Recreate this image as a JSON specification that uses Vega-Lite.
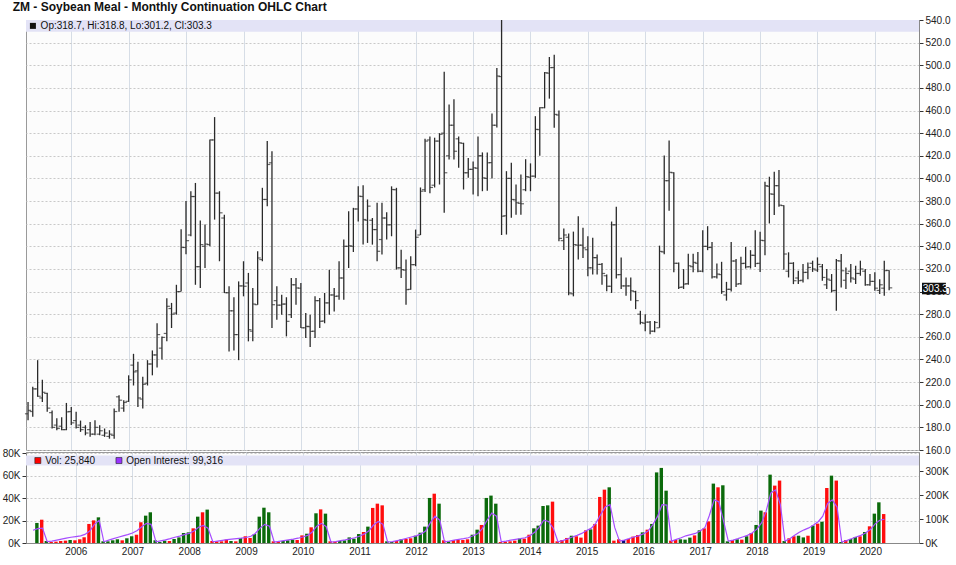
{
  "$schema": "https://vega.github.io/schema/vega-lite/v6.json",
  "background": "white",
  "padding": {"left": 1, "right": 0, "top": 0, "bottom": 0},
  "title": {"text": "ZM - Soybean Meal - Monthly Continuation OHLC Chart", "anchor": "start", "font": "Liberation Sans", "fontSize": 12, "fontWeight": "bold", "color": "#111111", "offset": 1, "dx": 11},
  "config": {
    "font": "Liberation Sans",
    "view": {"stroke": "#9a9a9a", "fill": "#fcfcfc"},
    "axis": {"labelFont": "Liberation Sans", "labelFontSize": 10, "labelColor": "#222222", "titleFontSize": 10, "labelOverlap": false}
  },
  "spacing": 2,
  "bounds": "flush",
  "datasets": {
    "zm": [
      {"d":"2005-04-01","o":192,"h":202.5,"l":186.3,"c":195,"v":null,"oi":53000,"dir":"up"},
      {"d":"2005-05-01","o":194,"h":215.8,"l":189.3,"c":214,"v":17900,"oi":60000,"dir":"up"},
      {"d":"2005-06-01","o":214,"h":239.4,"l":207,"c":207.5,"v":20800,"oi":62000,"dir":"down"},
      {"d":"2005-07-01","o":206,"h":222,"l":202.5,"c":211,"v":1800,"oi":6000,"dir":"up"},
      {"d":"2005-08-01","o":210,"h":210.5,"l":193.7,"c":197,"v":900,"oi":8000,"dir":"down"},
      {"d":"2005-09-01","o":193,"h":195,"l":179,"c":180,"v":1200,"oi":12000,"dir":"down"},
      {"d":"2005-10-01","o":182,"h":188,"l":177.5,"c":179,"v":1800,"oi":16000,"dir":"down"},
      {"d":"2005-11-01","o":181,"h":189,"l":177.5,"c":178,"v":2100,"oi":20000,"dir":"down"},
      {"d":"2005-12-01","o":178,"h":201.6,"l":177.5,"c":193.7,"v":2700,"oi":24000,"dir":"up"},
      {"d":"2006-01-01","o":194,"h":198,"l":182,"c":184,"v":2400,"oi":27000,"dir":"down"},
      {"d":"2006-02-01","o":186,"h":193.7,"l":179,"c":180,"v":3300,"oi":30000,"dir":"down"},
      {"d":"2006-03-01","o":182,"h":186,"l":176,"c":178,"v":5100,"oi":36000,"dir":"down"},
      {"d":"2006-04-01","o":180,"h":181.9,"l":173,"c":175,"v":17000,"oi":50000,"dir":"down"},
      {"d":"2006-05-01","o":178,"h":184.8,"l":171.6,"c":174,"v":20200,"oi":78000,"dir":"down"},
      {"d":"2006-06-01","o":174,"h":186.3,"l":173,"c":180,"v":22900,"oi":95000,"dir":"up"},
      {"d":"2006-07-01","o":174,"h":181.9,"l":173,"c":177,"v":1500,"oi":5000,"dir":"up"},
      {"d":"2006-08-01","o":173,"h":179,"l":171.6,"c":175,"v":1500,"oi":12000,"dir":"up"},
      {"d":"2006-09-01","o":172,"h":177.5,"l":170,"c":174,"v":2400,"oi":18000,"dir":"up"},
      {"d":"2006-10-01","o":173,"h":196.6,"l":170,"c":194,"v":3300,"oi":24000,"dir":"up"},
      {"d":"2006-11-01","o":207,"h":208.4,"l":193.7,"c":204,"v":2400,"oi":30000,"dir":"down"},
      {"d":"2006-12-01","o":197,"h":204,"l":193.7,"c":202,"v":4200,"oi":35000,"dir":"up"},
      {"d":"2007-01-01","o":203,"h":226,"l":202.5,"c":222,"v":6000,"oi":42000,"dir":"up"},
      {"d":"2007-02-01","o":235,"h":245,"l":217,"c":229,"v":7400,"oi":52000,"dir":"down"},
      {"d":"2007-03-01","o":230,"h":238,"l":198,"c":206,"v":18500,"oi":68000,"dir":"down"},
      {"d":"2007-04-01","o":205,"h":224.7,"l":196.6,"c":218,"v":24400,"oi":82000,"dir":"up"},
      {"d":"2007-05-01","o":219,"h":239.4,"l":217,"c":236,"v":27400,"oi":78000,"dir":"up"},
      {"d":"2007-06-01","o":236,"h":248,"l":226,"c":244,"v":2400,"oi":5000,"dir":"up"},
      {"d":"2007-07-01","o":244,"h":272,"l":233,"c":262,"v":900,"oi":9000,"dir":"up"},
      {"d":"2007-08-01","o":250,"h":260.4,"l":240,"c":259.5,"v":2100,"oi":13000,"dir":"up"},
      {"d":"2007-09-01","o":263,"h":294,"l":256,"c":287,"v":1800,"oi":18000,"dir":"down"},
      {"d":"2007-10-01","o":285,"h":290,"l":267.8,"c":280,"v":3600,"oi":24000,"dir":"up"},
      {"d":"2007-11-01","o":281,"h":306,"l":279.6,"c":300,"v":5000,"oi":29000,"dir":"up"},
      {"d":"2007-12-01","o":300,"h":355,"l":300,"c":339,"v":8900,"oi":35000,"dir":"up"},
      {"d":"2008-01-01","o":339,"h":380,"l":333,"c":345,"v":9500,"oi":40000,"dir":"up"},
      {"d":"2008-02-01","o":350,"h":388.7,"l":348.9,"c":384,"v":13100,"oi":50000,"dir":"down"},
      {"d":"2008-03-01","o":384,"h":396,"l":306,"c":322,"v":23500,"oi":66000,"dir":"up"},
      {"d":"2008-04-01","o":322,"h":362.8,"l":303.2,"c":341.5,"v":27400,"oi":73000,"dir":"down"},
      {"d":"2008-05-01","o":340,"h":359.2,"l":320.9,"c":342,"v":29800,"oi":62000,"dir":"up"},
      {"d":"2008-06-01","o":341.5,"h":434.5,"l":340,"c":434,"v":1800,"oi":5000,"dir":"down"},
      {"d":"2008-07-01","o":434,"h":454.2,"l":363.6,"c":387,"v":1500,"oi":8000,"dir":"down"},
      {"d":"2008-08-01","o":387,"h":388.7,"l":326.8,"c":369.6,"v":1500,"oi":11000,"dir":"down"},
      {"d":"2008-09-01","o":365,"h":368,"l":298.8,"c":299,"v":3000,"oi":14000,"dir":"down"},
      {"d":"2008-10-01","o":299,"h":304.7,"l":247,"c":283,"v":1800,"oi":16000,"dir":"up"},
      {"d":"2008-11-01","o":283,"h":295,"l":248,"c":262,"v":1500,"oi":18000,"dir":"down"},
      {"d":"2008-12-01","o":262,"h":309,"l":239.4,"c":305,"v":4500,"oi":20000,"dir":"up"},
      {"d":"2009-01-01","o":305,"h":326.8,"l":295.8,"c":304.7,"v":6000,"oi":23000,"dir":"down"},
      {"d":"2009-02-01","o":307.6,"h":316.5,"l":256,"c":266.3,"v":4500,"oi":28000,"dir":"down"},
      {"d":"2009-03-01","o":265,"h":303.2,"l":256,"c":289,"v":8000,"oi":40000,"dir":"up"},
      {"d":"2009-04-01","o":288.4,"h":335.6,"l":288.4,"c":329.7,"v":23500,"oi":62000,"dir":"up"},
      {"d":"2009-05-01","o":328.3,"h":391.7,"l":326.8,"c":381.4,"v":31500,"oi":78000,"dir":"up"},
      {"d":"2009-06-01","o":381.4,"h":433,"l":375.5,"c":412.3,"v":27400,"oi":70000,"dir":"up"},
      {"d":"2009-07-01","o":413.8,"h":424.1,"l":267.8,"c":288.4,"v":1500,"oi":4000,"dir":"down"},
      {"d":"2009-08-01","o":292,"h":304.7,"l":275.2,"c":288,"v":1200,"oi":7000,"dir":"down"},
      {"d":"2009-09-01","o":288,"h":297.3,"l":279.6,"c":289,"v":1800,"oi":10000,"dir":"up"},
      {"d":"2009-10-01","o":289,"h":295,"l":260.4,"c":273.7,"v":2400,"oi":13000,"dir":"up"},
      {"d":"2009-11-01","o":279.6,"h":312,"l":276.6,"c":306,"v":3000,"oi":16000,"dir":"up"},
      {"d":"2009-12-01","o":306,"h":312,"l":288.4,"c":303.2,"v":2700,"oi":20000,"dir":"down"},
      {"d":"2010-01-01","o":303,"h":307.6,"l":267.8,"c":268,"v":6800,"oi":25000,"dir":"down"},
      {"d":"2010-02-01","o":268,"h":281,"l":259,"c":269.3,"v":8300,"oi":32000,"dir":"up"},
      {"d":"2010-03-01","o":269,"h":279.6,"l":251,"c":264.8,"v":14000,"oi":45000,"dir":"down"},
      {"d":"2010-04-01","o":265,"h":295.8,"l":259,"c":292,"v":26500,"oi":70000,"dir":"up"},
      {"d":"2010-05-01","o":292,"h":294.3,"l":267.8,"c":273.7,"v":30000,"oi":82000,"dir":"down"},
      {"d":"2010-06-01","o":274,"h":298.8,"l":272,"c":290,"v":26200,"oi":68000,"dir":"up"},
      {"d":"2010-07-01","o":290,"h":319.4,"l":279.6,"c":297,"v":1500,"oi":4000,"dir":"down"},
      {"d":"2010-08-01","o":297,"h":303.2,"l":282.5,"c":295.8,"v":1200,"oi":6000,"dir":"down"},
      {"d":"2010-09-01","o":296,"h":326.8,"l":292.7,"c":312,"v":1800,"oi":10000,"dir":"up"},
      {"d":"2010-10-01","o":312,"h":346,"l":292.7,"c":340,"v":2400,"oi":13000,"dir":"up"},
      {"d":"2010-11-01","o":340,"h":371,"l":320.9,"c":340.5,"v":5000,"oi":17000,"dir":"up"},
      {"d":"2010-12-01","o":340,"h":374,"l":335,"c":373,"v":3900,"oi":22000,"dir":"up"},
      {"d":"2011-01-01","o":373,"h":393.1,"l":362,"c":384.3,"v":8000,"oi":28000,"dir":"up"},
      {"d":"2011-02-01","o":384,"h":394,"l":341.5,"c":363.7,"v":9800,"oi":38000,"dir":"down"},
      {"d":"2011-03-01","o":363,"h":381.4,"l":343,"c":375.5,"v":14600,"oi":50000,"dir":"up"},
      {"d":"2011-04-01","o":363,"h":365,"l":341.5,"c":354.8,"v":31300,"oi":75000,"dir":"down"},
      {"d":"2011-05-01","o":354.8,"h":378.5,"l":326.8,"c":335.6,"v":35100,"oi":90000,"dir":"down"},
      {"d":"2011-06-01","o":346,"h":378.5,"l":332.7,"c":365,"v":33600,"oi":78000,"dir":"down"},
      {"d":"2011-07-01","o":365,"h":370,"l":346,"c":359,"v":1500,"oi":4000,"dir":"up"},
      {"d":"2011-08-01","o":359,"h":393,"l":348.9,"c":390.2,"v":900,"oi":6000,"dir":"up"},
      {"d":"2011-09-01","o":390,"h":391.7,"l":319.4,"c":320.9,"v":1800,"oi":10000,"dir":"down"},
      {"d":"2011-10-01","o":321,"h":337,"l":312,"c":319.4,"v":3300,"oi":14000,"dir":"up"},
      {"d":"2011-11-01","o":319,"h":328.3,"l":288.4,"c":301.7,"v":3600,"oi":20000,"dir":"down"},
      {"d":"2011-12-01","o":302,"h":331.2,"l":301.7,"c":323.8,"v":4200,"oi":25000,"dir":"down"},
      {"d":"2012-01-01","o":323.8,"h":354.8,"l":322.4,"c":348,"v":6500,"oi":30000,"dir":"up"},
      {"d":"2012-02-01","o":350,"h":392,"l":350,"c":388.7,"v":9200,"oi":38000,"dir":"up"},
      {"d":"2012-03-01","o":390,"h":435,"l":388,"c":433,"v":14600,"oi":50000,"dir":"up"},
      {"d":"2012-04-01","o":434,"h":437,"l":387,"c":392,"v":40200,"oi":85000,"dir":"up"},
      {"d":"2012-05-01","o":394,"h":436,"l":392,"c":433,"v":44000,"oi":112000,"dir":"down"},
      {"d":"2012-06-01","o":433,"h":440,"l":394.6,"c":439,"v":35100,"oi":95000,"dir":"up"},
      {"d":"2012-07-01","o":440,"h":494.3,"l":369.6,"c":405,"v":2400,"oi":5000,"dir":"down"},
      {"d":"2012-08-01","o":420,"h":465.4,"l":416.8,"c":447,"v":1500,"oi":8000,"dir":"up"},
      {"d":"2012-09-01","o":447,"h":470,"l":416.8,"c":424,"v":2700,"oi":12000,"dir":"down"},
      {"d":"2012-10-01","o":435,"h":437,"l":409.4,"c":431.5,"v":2700,"oi":15000,"dir":"down"},
      {"d":"2012-11-01","o":431,"h":431.5,"l":390.2,"c":405,"v":2700,"oi":18000,"dir":"down"},
      {"d":"2012-12-01","o":405,"h":418,"l":400.5,"c":408,"v":3300,"oi":22000,"dir":"down"},
      {"d":"2013-01-01","o":408,"h":415,"l":385.8,"c":409.4,"v":7400,"oi":30000,"dir":"up"},
      {"d":"2013-02-01","o":409,"h":437,"l":384.3,"c":420,"v":11900,"oi":40000,"dir":"up"},
      {"d":"2013-03-01","o":420,"h":423,"l":388.7,"c":400.5,"v":16100,"oi":60000,"dir":"down"},
      {"d":"2013-04-01","o":400,"h":423,"l":389,"c":413.8,"v":40200,"oi":95000,"dir":"up"},
      {"d":"2013-05-01","o":414,"h":457.4,"l":400,"c":447,"v":42300,"oi":125000,"dir":"up"},
      {"d":"2013-06-01","o":447,"h":497.5,"l":445,"c":490.5,"v":35100,"oi":112000,"dir":"up"},
      {"d":"2013-07-01","o":490,"h":540,"l":350,"c":366.6,"v":900,"oi":5000,"dir":"down"},
      {"d":"2013-08-01","o":367,"h":406.4,"l":350.4,"c":400,"v":1200,"oi":8000,"dir":"down"},
      {"d":"2013-09-01","o":400,"h":413.8,"l":365.2,"c":381.4,"v":1500,"oi":12000,"dir":"down"},
      {"d":"2013-10-01","o":381,"h":394.6,"l":368,"c":378.5,"v":2100,"oi":15000,"dir":"down"},
      {"d":"2013-11-01","o":378,"h":403.5,"l":368,"c":377.6,"v":3900,"oi":18000,"dir":"up"},
      {"d":"2013-12-01","o":390,"h":417,"l":388.7,"c":401.6,"v":3900,"oi":22000,"dir":"down"},
      {"d":"2014-01-01","o":401,"h":413.3,"l":388.7,"c":402,"v":7400,"oi":30000,"dir":"down"},
      {"d":"2014-02-01","o":402,"h":455,"l":400.5,"c":443.3,"v":13100,"oi":45000,"dir":"up"},
      {"d":"2014-03-01","o":443,"h":463,"l":420,"c":462.5,"v":15500,"oi":65000,"dir":"up"},
      {"d":"2014-04-01","o":462.5,"h":494,"l":462,"c":493.4,"v":33000,"oi":95000,"dir":"up"},
      {"d":"2014-05-01","o":493,"h":507.3,"l":470.5,"c":497.9,"v":33600,"oi":90000,"dir":"up"},
      {"d":"2014-06-01","o":498,"h":509.4,"l":444.8,"c":456.6,"v":36900,"oi":62000,"dir":"down"},
      {"d":"2014-07-01","o":456,"h":460,"l":344.5,"c":347,"v":1500,"oi":5000,"dir":"down"},
      {"d":"2014-08-01","o":345,"h":355.8,"l":336.7,"c":350,"v":2700,"oi":10000,"dir":"down"},
      {"d":"2014-09-01","o":348,"h":351.4,"l":296.8,"c":298.8,"v":4500,"oi":17000,"dir":"down"},
      {"d":"2014-10-01","o":298,"h":353,"l":295.8,"c":341.5,"v":6500,"oi":25000,"dir":"up"},
      {"d":"2014-11-01","o":341,"h":366.6,"l":328.3,"c":341,"v":6000,"oi":32000,"dir":"down"},
      {"d":"2014-12-01","o":341,"h":356.3,"l":329.7,"c":338.6,"v":4800,"oi":40000,"dir":"down"},
      {"d":"2015-01-01","o":337,"h":349,"l":313.5,"c":321,"v":11300,"oi":52000,"dir":"down"},
      {"d":"2015-02-01","o":321,"h":347.5,"l":315,"c":330,"v":12200,"oi":62000,"dir":"up"},
      {"d":"2015-03-01","o":330,"h":332.7,"l":315,"c":324,"v":17000,"oi":82000,"dir":"down"},
      {"d":"2015-04-01","o":324,"h":325.3,"l":306,"c":316,"v":41100,"oi":118000,"dir":"down"},
      {"d":"2015-05-01","o":314,"h":315,"l":300.2,"c":304.7,"v":47600,"oi":150000,"dir":"down"},
      {"d":"2015-06-01","o":304.7,"h":361.9,"l":298.8,"c":359,"v":49700,"oi":160000,"dir":"up"},
      {"d":"2015-07-01","o":359,"h":375,"l":311.6,"c":314.9,"v":2100,"oi":65000,"dir":"down"},
      {"d":"2015-08-01","o":315,"h":330.2,"l":302.3,"c":305,"v":3300,"oi":8000,"dir":"down"},
      {"d":"2015-09-01","o":305,"h":312.5,"l":296.3,"c":305,"v":2700,"oi":12000,"dir":"unch"},
      {"d":"2015-10-01","o":305,"h":312.5,"l":292,"c":300.7,"v":3600,"oi":18000,"dir":"down"},
      {"d":"2015-11-01","o":300,"h":300.7,"l":284.5,"c":292,"v":5700,"oi":25000,"dir":"down"},
      {"d":"2015-12-01","o":280,"h":283,"l":271,"c":272.7,"v":7100,"oi":30000,"dir":"down"},
      {"d":"2016-01-01","o":272,"h":280,"l":265,"c":273,"v":9500,"oi":38000,"dir":"up"},
      {"d":"2016-02-01","o":273,"h":274,"l":262.2,"c":265,"v":11900,"oi":50000,"dir":"down"},
      {"d":"2016-03-01","o":265,"h":274,"l":264,"c":272.7,"v":17000,"oi":75000,"dir":"up"},
      {"d":"2016-04-01","o":268,"h":340.6,"l":268,"c":335.5,"v":63000,"oi":110000,"dir":"up"},
      {"d":"2016-05-01","o":335,"h":420.2,"l":333,"c":398,"v":67000,"oi":160000,"dir":"up"},
      {"d":"2016-06-01","o":398,"h":433.5,"l":371.5,"c":405.4,"v":46700,"oi":158000,"dir":"up"},
      {"d":"2016-07-01","o":405,"h":405.4,"l":317,"c":325,"v":2100,"oi":8000,"dir":"down"},
      {"d":"2016-08-01","o":325,"h":325.8,"l":302.3,"c":303.7,"v":2700,"oi":15000,"dir":"down"},
      {"d":"2016-09-01","o":304,"h":319.9,"l":302.3,"c":306.6,"v":3300,"oi":22000,"dir":"up"},
      {"d":"2016-10-01","o":307,"h":333.5,"l":306,"c":322.8,"v":3000,"oi":30000,"dir":"up"},
      {"d":"2016-11-01","o":322,"h":333.5,"l":317,"c":325.8,"v":4800,"oi":35000,"dir":"up"},
      {"d":"2016-12-01","o":325,"h":335,"l":317,"c":318,"v":6800,"oi":40000,"dir":"down"},
      {"d":"2017-01-01","o":318,"h":354.3,"l":317,"c":339.9,"v":11300,"oi":50000,"dir":"up"},
      {"d":"2017-02-01","o":340,"h":357.8,"l":336.6,"c":339,"v":13100,"oi":65000,"dir":"down"},
      {"d":"2017-03-01","o":339,"h":343.9,"l":311.5,"c":313,"v":19300,"oi":115000,"dir":"down"},
      {"d":"2017-04-01","o":313,"h":324.8,"l":311.5,"c":315.5,"v":53000,"oi":180000,"dir":"up"},
      {"d":"2017-05-01","o":315,"h":326.3,"l":298,"c":300,"v":49700,"oi":172000,"dir":"down"},
      {"d":"2017-06-01","o":297,"h":308.6,"l":292,"c":302,"v":51500,"oi":90000,"dir":"up"},
      {"d":"2017-07-01","o":302,"h":343.9,"l":300,"c":327,"v":1500,"oi":8000,"dir":"up"},
      {"d":"2017-08-01","o":327,"h":328.7,"l":304,"c":306.6,"v":2700,"oi":12000,"dir":"down"},
      {"d":"2017-09-01","o":307,"h":330.7,"l":306,"c":324.8,"v":3300,"oi":18000,"dir":"up"},
      {"d":"2017-10-01","o":325,"h":339.5,"l":320.4,"c":321.8,"v":3000,"oi":25000,"dir":"down"},
      {"d":"2017-11-01","o":322,"h":336.6,"l":320.4,"c":332.1,"v":6000,"oi":32000,"dir":"up"},
      {"d":"2017-12-01","o":332,"h":354.3,"l":321.8,"c":324.8,"v":8900,"oi":42000,"dir":"down"},
      {"d":"2018-01-01","o":325,"h":352.8,"l":317.4,"c":345.3,"v":16100,"oi":58000,"dir":"up"},
      {"d":"2018-02-01","o":345,"h":397.1,"l":332.1,"c":393.6,"v":28900,"oi":85000,"dir":"up"},
      {"d":"2018-03-01","o":393,"h":401.5,"l":360.2,"c":386.3,"v":27400,"oi":132000,"dir":"down"},
      {"d":"2018-04-01","o":386,"h":405.9,"l":367.6,"c":393.6,"v":61000,"oi":209000,"dir":"up"},
      {"d":"2018-05-01","o":393.6,"h":407.4,"l":375,"c":376.4,"v":51200,"oi":222000,"dir":"down"},
      {"d":"2018-06-01","o":376,"h":376.4,"l":319.2,"c":333.2,"v":55700,"oi":160000,"dir":"down"},
      {"d":"2018-07-01","o":318,"h":334.7,"l":312.5,"c":325,"v":1800,"oi":8000,"dir":"up"},
      {"d":"2018-08-01","o":325,"h":326,"l":306.6,"c":309.6,"v":4200,"oi":18000,"dir":"down"},
      {"d":"2018-09-01","o":312,"h":318.4,"l":306.6,"c":309.6,"v":6000,"oi":32000,"dir":"down"},
      {"d":"2018-10-01","o":310,"h":324.3,"l":308.1,"c":316.9,"v":6500,"oi":45000,"dir":"up"},
      {"d":"2018-11-01","o":317,"h":325.8,"l":311,"c":321.3,"v":5000,"oi":55000,"dir":"up"},
      {"d":"2018-12-01","o":325,"h":327.3,"l":317.4,"c":320,"v":6500,"oi":63000,"dir":"down"},
      {"d":"2019-01-01","o":319,"h":330.2,"l":317.4,"c":324,"v":15500,"oi":75000,"dir":"up"},
      {"d":"2019-02-01","o":322,"h":324.3,"l":309.6,"c":312.5,"v":17300,"oi":90000,"dir":"down"},
      {"d":"2019-03-01","o":306,"h":319.9,"l":302.3,"c":311,"v":19000,"oi":112000,"dir":"up"},
      {"d":"2019-04-01","o":310,"h":315.5,"l":299.2,"c":300.7,"v":49100,"oi":165000,"dir":"down"},
      {"d":"2019-05-01","o":301,"h":328.8,"l":283,"c":327.3,"v":60100,"oi":180000,"dir":"up"},
      {"d":"2019-06-01","o":327,"h":333.2,"l":303.7,"c":318.4,"v":55700,"oi":150000,"dir":"down"},
      {"d":"2019-07-01","o":310,"h":321.3,"l":302.3,"c":316,"v":900,"oi":4000,"dir":"up"},
      {"d":"2019-08-01","o":318,"h":324.3,"l":308.1,"c":312,"v":2700,"oi":10000,"dir":"down"},
      {"d":"2019-09-01","o":311,"h":322.8,"l":306.6,"c":316,"v":3600,"oi":18000,"dir":"up"},
      {"d":"2019-10-01","o":316,"h":327.3,"l":314,"c":320,"v":5400,"oi":25000,"dir":"up"},
      {"d":"2019-11-01","o":318,"h":319.9,"l":305.1,"c":306,"v":6000,"oi":32000,"dir":"down"},
      {"d":"2019-12-01","o":306,"h":315.5,"l":305.1,"c":309,"v":9800,"oi":42000,"dir":"up"},
      {"d":"2020-01-01","o":309,"h":317,"l":300.7,"c":303,"v":14900,"oi":56000,"dir":"down"},
      {"d":"2020-02-01","o":301,"h":311,"l":297.8,"c":306,"v":26200,"oi":80000,"dir":"up"},
      {"d":"2020-03-01","o":303,"h":327.3,"l":296.3,"c":318.5,"v":36300,"oi":95000,"dir":"up"},
      {"d":"2020-04-01","o":318.7,"h":318.8,"l":301.2,"c":303.3,"v":25840,"oi":99316,"dir":"down"}
    ]
  },
  "vconcat": [
    {
      "width": 893,
      "height": 430,
      "layer": [
        {
          "data": {"values": [{"band": "top"}]},
          "mark": {"type": "rect", "color": "#e3e3f6"},
          "encoding": {
            "y": {"datum": 540, "type": "quantitative",
                  "scale": {"domain": [160, 540], "nice": false, "zero": false},
                  "axis": {"orient": "right", "title": null, "values": [160,180,200,220,240,260,280,300,320,340,360,380,400,420,440,460,480,500,520,540], "tickCount": 40, "format": ".1f", "labelOverlap": false, "labelBound": false, "labelFlush": false, "grid": true, "gridDash": [2, 2], "gridColor": "#c9c9c9", "tickSize": 4, "tickColor": "#333333", "domainColor": "#888888", "labelPadding": 2, "zindex": 0}},
            "y2": {"datum": 529.6}
          }
        },
        {
          "data": {"name": "zm"},
          "mark": {"type": "rule", "color": "#2a2a2a", "strokeWidth": 1.3},
          "encoding": {
            "x": {"field": "d", "type": "temporal",
                  "scale": {"type": "utc", "domain": [{"year": 2005, "month": 3, "date": 19, "utc": true}, {"year": 2020, "month": 10, "date": 8, "utc": true}]},
                  "axis": {"title": null, "labels": false, "ticks": false, "domain": false, "grid": true, "gridColor": "#d6dde6", "tickCount": {"interval": "year", "step": 1}}},
            "y": {"field": "l", "type": "quantitative",
                  "scale": {"domain": [160, 540], "nice": false, "zero": false},
                  "axis": {"orient": "right", "title": null, "values": [160,180,200,220,240,260,280,300,320,340,360,380,400,420,440,460,480,500,520,540], "tickCount": 40, "format": ".1f", "labelOverlap": false, "labelBound": false, "labelFlush": false, "grid": true, "gridDash": [2, 2], "gridColor": "#c9c9c9", "tickSize": 4, "tickColor": "#333333", "domainColor": "#888888", "labelPadding": 2, "zindex": 0}},
            "y2": {"field": "h"}
          }
        },
        {
          "data": {"name": "zm"},
          "mark": {"type": "tick", "orient": "horizontal", "color": "#2a2a2a", "size": 3, "thickness": 1.2, "xOffset": -1.6},
          "encoding": {
            "x": {"field": "d", "type": "temporal"},
            "y": {"field": "o", "type": "quantitative"}
          }
        },
        {
          "data": {"name": "zm"},
          "mark": {"type": "tick", "orient": "horizontal", "color": "#2a2a2a", "size": 3, "thickness": 1.2, "xOffset": 1.6},
          "encoding": {
            "x": {"field": "d", "type": "temporal"},
            "y": {"field": "c", "type": "quantitative"}
          }
        },
        {
          "data": {"values": [{"label": "Op:318.7, Hi:318.8, Lo:301.2, Cl:303.3"}]},
          "mark": {"type": "point", "shape": "square", "filled": true, "color": "#111111", "size": 36, "opacity": 1},
          "encoding": {
            "x": {"datum": {"year": 2005, "month": 5, "date": 2, "utc": true}, "type": "temporal"},
            "y": {"datum": 534.8, "type": "quantitative"}
          }
        },
        {
          "data": {"values": [{"label": "Op:318.7, Hi:318.8, Lo:301.2, Cl:303.3"}]},
          "mark": {"type": "text", "align": "left", "baseline": "middle", "fontSize": 10, "color": "#111111"},
          "encoding": {
            "x": {"datum": {"year": 2005, "month": 6, "date": 20, "utc": true}, "type": "temporal"},
            "y": {"datum": 534.8, "type": "quantitative"},
            "text": {"field": "label"}
          }
        },
        {
          "data": {"values": [{"last": "303.3"}]},
          "mark": {"type": "rect", "color": "#111111"},
          "encoding": {
            "x": {"datum": {"year": 2020, "month": 10, "date": 27, "utc": true}, "type": "temporal"},
            "x2": {"datum": {"year": 2021, "month": 3, "date": 28, "utc": true}},
            "y": {"datum": 307.8, "type": "quantitative"},
            "y2": {"datum": 297.6}
          }
        },
        {
          "data": {"values": [{"last": "303.3"}]},
          "mark": {"type": "text", "align": "left", "baseline": "middle", "fontSize": 10, "color": "#ffffff"},
          "encoding": {
            "x": {"datum": {"year": 2020, "month": 11, "date": 1, "utc": true}, "type": "temporal"},
            "y": {"datum": 302.7, "type": "quantitative"},
            "text": {"field": "last"}
          }
        }
      ]
    },
    {
      "width": 893,
      "height": 91,
      "layer": [
        {
          "layer": [
            {
              "data": {"values": [{"band": "bottom"}]},
              "mark": {"type": "rect", "color": "#e3e3f6"},
              "encoding": {
                "y": {"datum": 78100, "type": "quantitative",
                      "scale": {"domain": [0, 81200], "nice": false},
                      "axis": {"orient": "left", "title": null, "values": [0, 20000, 40000, 60000, 80000], "tickCount": 10, "labelExpr": "(datum.value / 1000) + 'K'", "labelOverlap": false, "labelBound": false, "labelFlush": false, "grid": true, "gridDash": [2, 2], "gridColor": "#c9c9c9", "tickSize": 4, "tickColor": "#333333", "domainColor": "#888888", "labelPadding": 2}},
                "y2": {"datum": 69200}
              }
            },
            {
              "data": {"name": "zm"},
              "mark": {"type": "bar", "width": 3.4, "xOffset": -0.8},
              "encoding": {
                "x": {"field": "d", "type": "temporal",
                      "scale": {"type": "utc", "domain": [{"year": 2005, "month": 3, "date": 19, "utc": true}, {"year": 2020, "month": 10, "date": 8, "utc": true}]},
                      "axis": {"title": null, "format": "%Y", "labelAlign": "center", "labelFlush": false, "ticks": false, "domainColor": "#888888", "grid": true, "gridColor": "#d6dde6", "labelPadding": 3, "tickCount": {"interval": "year", "step": 1}}},
                "y": {"field": "v", "type": "quantitative",
                      "scale": {"domain": [0, 81200], "nice": false},
                      "axis": {"orient": "left", "title": null, "values": [0, 20000, 40000, 60000, 80000], "tickCount": 10, "labelExpr": "(datum.value / 1000) + 'K'", "labelOverlap": false, "labelBound": false, "labelFlush": false, "grid": true, "gridDash": [2, 2], "gridColor": "#c9c9c9", "tickSize": 4, "tickColor": "#333333", "domainColor": "#888888", "labelPadding": 2}},
                "color": {"field": "dir", "type": "nominal", "scale": {"domain": ["up", "down", "unch"], "range": ["#0b6a0b", "#ff0d0d", "#0a0a7a"]}, "legend": null}
              }
            },
            {
              "data": {"values": [{"label": "Vol: 25,840"}]},
              "mark": {"type": "point", "shape": "square", "filled": true, "color": "#ff0000", "stroke": "#222222", "strokeWidth": 0.6, "size": 36, "opacity": 1},
              "encoding": {
                "x": {"datum": {"year": 2005, "month": 5, "date": 2, "utc": true}, "type": "temporal"},
                "y": {"datum": 73600, "type": "quantitative"}
              }
            },
            {
              "data": {"values": [{"label": "Vol: 25,840"}]},
              "mark": {"type": "text", "align": "left", "baseline": "middle", "fontSize": 10, "color": "#111111"},
              "encoding": {
                "x": {"datum": {"year": 2005, "month": 6, "date": 18, "utc": true}, "type": "temporal"},
                "y": {"datum": 73600, "type": "quantitative"},
                "text": {"field": "label"}
              }
            },
            {
              "data": {"values": [{"label": "Open Interest: 99,316"}]},
              "mark": {"type": "point", "shape": "square", "filled": true, "color": "#9933ff", "stroke": "#222222", "strokeWidth": 0.6, "size": 36, "opacity": 1},
              "encoding": {
                "x": {"datum": {"year": 2006, "month": 10, "date": 6, "utc": true}, "type": "temporal"},
                "y": {"datum": 73600, "type": "quantitative"}
              }
            },
            {
              "data": {"values": [{"label": "Open Interest: 99,316"}]},
              "mark": {"type": "text", "align": "left", "baseline": "middle", "fontSize": 10, "color": "#111111"},
              "encoding": {
                "x": {"datum": {"year": 2006, "month": 11, "date": 22, "utc": true}, "type": "temporal"},
                "y": {"datum": 73600, "type": "quantitative"},
                "text": {"field": "label"}
              }
            }
          ]
        },
        {
          "data": {"name": "zm"},
          "mark": {"type": "line", "color": "#a64dff", "strokeWidth": 1.2},
          "encoding": {
            "x": {"field": "d", "type": "temporal"},
            "y": {"field": "oi", "type": "quantitative",
                  "scale": {"domain": [0, 380000], "nice": false},
                  "axis": {"orient": "right", "title": null, "values": [0, 100000, 200000, 300000], "tickCount": 10, "labelExpr": "(datum.value / 1000) + 'K'", "labelOverlap": false, "grid": false, "tickSize": 4, "tickColor": "#333333", "domainColor": "#888888", "labelPadding": 2}}
          }
        }
      ],
      "resolve": {"scale": {"y": "independent"}}
    }
  ]
}
